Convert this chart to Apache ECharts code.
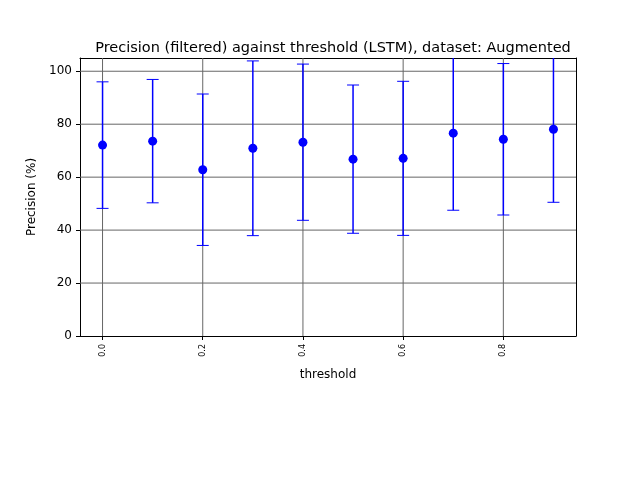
<!DOCTYPE html>
<html><head><meta charset="utf-8">
<script src="https://cdn.jsdelivr.net/npm/echarts@6/dist/echarts.min.js"></script>
<style>html,body{margin:0;padding:0;background:#fff}#c{width:640px;height:480px}</style>
</head><body><div id="c"></div>
<script>
const thresholds=[0.0,0.1,0.2,0.3,0.4,0.5,0.6,0.7,0.8,0.9];
const means=[72.1,73.6,62.8,70.9,73.2,66.8,67.1,76.6,74.3,78.1];
const errors=[23.9,23.3,28.6,33.0,29.5,28.0,29.1,29.1,28.6,27.6];
const xTicks=[0,0.2,0.4,0.6,0.8];
const yTicks=[0,20,40,60,80,100];
const chart=echarts.init(document.getElementById('c'));
const pts=thresholds.map((t,i)=>[t,means[i]]);
const err=thresholds.map((t,i)=>[t,means[i]-errors[i],means[i]+errors[i]]);
const font='DejaVu Sans';
chart.setOption({
 animation:false,
 title:{text:'Precision (filtered) against threshold (LSTM), dataset: Augmented',left:328,top:36,textAlign:'center',textStyle:{fontFamily:font,fontSize:14.5,fontWeight:'normal',color:'#000'}},
 grid:{left:80,right:64,top:58,bottom:144},
 xAxis:[{type:'value',min:-0.045,max:0.945,name:'threshold',nameLocation:'middle',nameGap:33,
  nameTextStyle:{fontFamily:font,fontSize:12,color:'#000'},
  axisLine:{onZero:false,lineStyle:{color:'#000'}},
  axisTick:{customValues:xTicks,length:4,lineStyle:{color:'#000'}},
  axisLabel:{customValues:xTicks,rotate:90,fontSize:8,fontFamily:font,color:'#000',formatter:v=>v.toFixed(1)},
  splitLine:{show:false}},
  {type:'value',position:'top',min:-0.045,max:0.945,axisLine:{onZero:false,lineStyle:{color:'#000'}},axisTick:{show:false},axisLabel:{show:false},splitLine:{show:false}}],
 yAxis:[{type:'value',min:0,max:105,name:'Precision (%)',nameLocation:'middle',nameGap:42,
  nameTextStyle:{fontFamily:font,fontSize:12,color:'#000'},
  axisLine:{show:true,onZero:false,lineStyle:{color:'#000'}},
  axisTick:{customValues:yTicks,show:true,length:4,lineStyle:{color:'#000'}},
  axisLabel:{customValues:yTicks,fontSize:12,fontFamily:font,color:'#000'},
  splitLine:{show:false}},
  {type:'value',position:'right',min:0,max:105,axisLine:{show:true,onZero:false,lineStyle:{color:'#000'}},axisTick:{show:false},axisLabel:{show:false},splitLine:{show:false}}],
 series:[
  {type:'custom',silent:true,z:1,data:xTicks.map(v=>[v]),clip:true,
   renderItem:(p,api)=>{const a=api.coord([api.value(0),0]);const b=api.coord([api.value(0),105]);
    return {type:'line',shape:{x1:a[0],y1:a[1],x2:b[0],y2:b[1]},style:{stroke:'#666',lineWidth:1}};},
   encode:{x:0}},
  {type:'custom',silent:true,z:1,data:yTicks.filter(v=>v>0).map(v=>[v]),clip:true,
   renderItem:(p,api)=>{const a=api.coord([-0.045,api.value(0)]);const b=api.coord([0.945,api.value(0)]);
    return {type:'line',shape:{x1:a[0],y1:a[1],x2:b[0],y2:b[1]},style:{stroke:'#666',lineWidth:1}};},
   encode:{y:0}},
  {type:'custom',z:2,data:err,clip:true,encode:{x:0,y:[1,2]},
   renderItem:(p,api)=>{const lo=api.coord([api.value(0),api.value(1)]);const hi=api.coord([api.value(0),api.value(2)]);const w=6;
    const st={stroke:'#0000ff',lineWidth:1.5};
    return {type:'group',children:[
     {type:'line',shape:{x1:lo[0],y1:lo[1],x2:hi[0],y2:hi[1]},style:st},
     {type:'line',shape:{x1:lo[0]-w,y1:lo[1],x2:lo[0]+w,y2:lo[1]},style:{stroke:'#0000ff',lineWidth:1}},
     {type:'line',shape:{x1:hi[0]-w,y1:hi[1],x2:hi[0]+w,y2:hi[1]},style:{stroke:'#0000ff',lineWidth:1}}]};}},
  {type:'scatter',z:3,data:pts,symbolSize:9,itemStyle:{color:'#0000ff',opacity:1}}
 ]
});
</script></body></html>
